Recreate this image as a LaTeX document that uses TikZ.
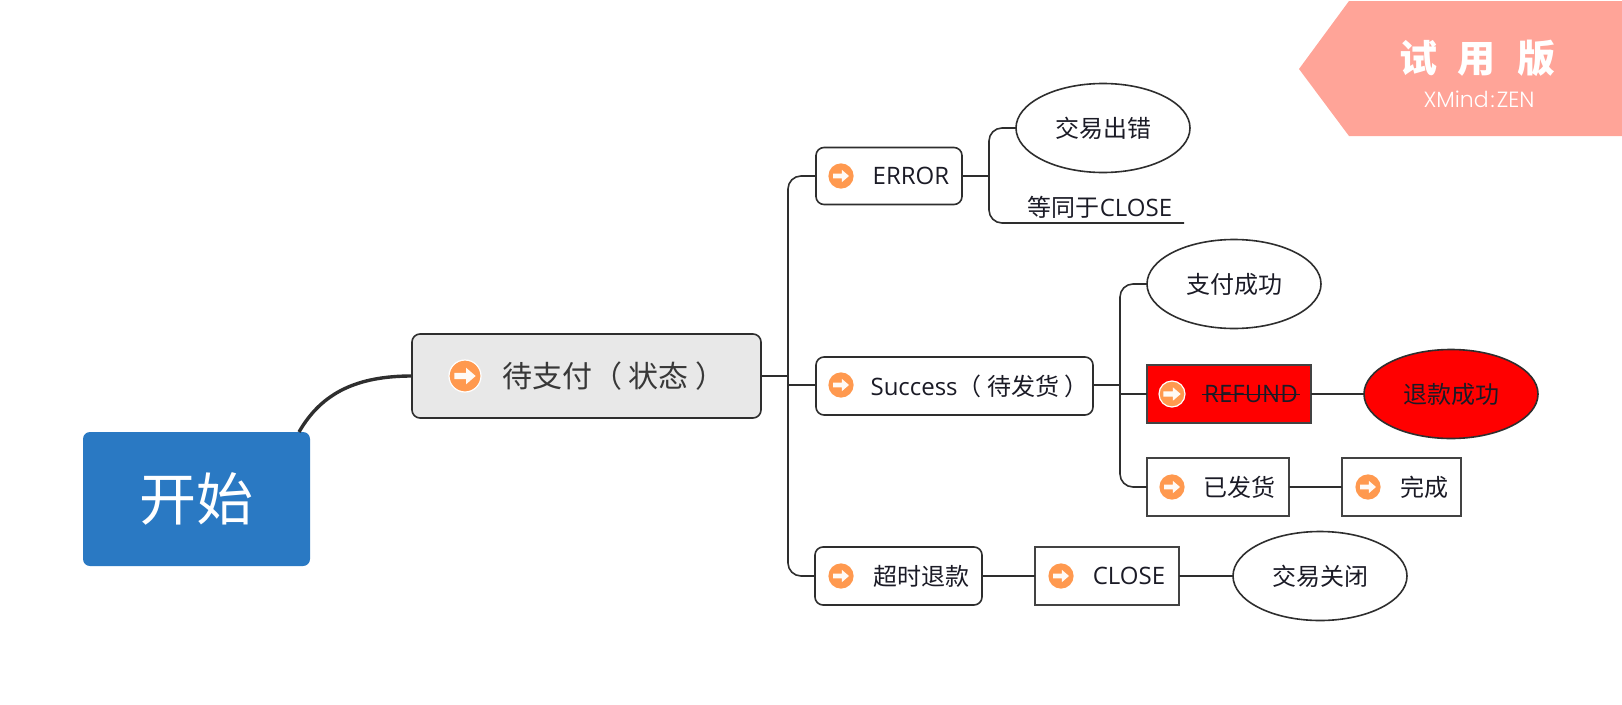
\documentclass[tikz,border=0pt]{standalone}
\usepackage{fontspec}
\usetikzlibrary{shapes.geometric}
\setmainfont{Open Sans}
\newfontfamily\cjk{Noto Sans CJK SC}
\newfontfamily\wm{Poppins}[UprightFont=* Light]
\definecolor{ink}{HTML}{1B1B26}
\definecolor{linec}{HTML}{2E2E2E}
\definecolor{orangeic}{HTML}{FF994F}
\definecolor{bluebox}{HTML}{2A79C3}
\definecolor{greybox}{HTML}{E8E8E8}
\definecolor{banner}{HTML}{FFA498}
\newcommand{\fs}[1]{\fontsize{#1}{#1}\selectfont}
\newsavebox{\strikebox}
\newcommand{\struck}[1]{\sbox{\strikebox}{#1}\rlap{\kern-2pt\rule[7.5pt]{\dimexpr\wd\strikebox+4pt\relax}{1.4pt}}\usebox{\strikebox}}
% #1 name, #2 x, #3 y, #4 radius, #5 ring
\newcommand{\arrowicon}[5]{%
  \node[circle,fill=orangeic,draw=#5,line width=1.2pt,minimum size=#4*2pt,inner sep=0pt] (#1) at (#2,#3) {};
  \begin{scope}[shift={(#2,#3)},scale=#4/12]
    \fill[white!95!orangeic] (-8,-2.4) -- (0.8,-2.4) -- (0.8,-6.2) -- (8,0) -- (0.8,6.2) -- (0.8,2.4) -- (-8,2.4) -- cycle;
  \end{scope}}
\tikzset{
  x=1pt,y=-1pt,
  basebox/.style={inner sep=0pt,outer sep=0pt,line width=1.6pt,draw=linec,text=ink,font=\fs{24}},
  roundbox/.style={basebox,rectangle,rounded corners=8pt,fill=white},
  squarebox/.style={basebox,rectangle,fill=white,line width=1.8pt,draw=linec!90},
  oval/.style={basebox,ellipse,fill=white,minimum width=174pt,minimum height=89pt,font=\fs{24}\cjk},
  conn/.style={draw=linec,line width=1.6pt},
  elbow/.style={conn,rounded corners=13pt},
}
\begin{document}
\begin{tikzpicture}
\useasboundingbox (0,0) rectangle (1622,704);
% trial banner
\fill[banner] (1349,1) -- (1622,1) -- (1622,136) -- (1349,136) -- (1299,69) -- cycle;
\node[text=white,inner sep=0pt,font=\fs{38}\cjk\bfseries] (trial) at (1477,58) {试\hspace{21pt}用\hspace{21pt}版};
\node[text=white,inner sep=0pt,font=\fs{22}\wm] (xmind) at (1479,99) {XMind\hspace{2pt}:\hspace{2pt}ZEN};
% nodes
\node[rectangle,rounded corners=7pt,fill=bluebox,text=white,minimum width=227pt,minimum height=134pt,inner sep=0pt,font=\fs{57}\cjk] (start) at (196.5,499) {开始};
\node[roundbox,fill=greybox,minimum width=349pt,minimum height=84pt,text=linec!95,font=\fs{30}\cjk] (main) at (586.5,376) {\hspace*{55pt}待支付（ 状态 ）};
\node[roundbox,minimum width=146pt,minimum height=57pt] (err) at (889,176) {\hspace*{44pt}ERROR};
\node[roundbox,minimum width=277pt,minimum height=58pt] (suc) at (954.5,386) {\hspace*{50pt}Success{\cjk（ 待发货 ）}};
\node[roundbox,minimum width=167pt,minimum height=58pt,font=\fs{24}\cjk] (over) at (898.5,576) {\hspace*{45pt}超时退款};
\node[squarebox,minimum width=144pt,minimum height=58pt] (cls) at (1107,576) {\hspace*{44pt}CLOSE};
\node[squarebox,fill=red,minimum width=164pt,minimum height=58pt] (ref) at (1229,394) {\hspace*{44pt}\struck{REFUND}};
\node[squarebox,minimum width=142pt,minimum height=58pt,font=\fs{24}\cjk] (ship) at (1218,487) {\hspace*{43pt}已发货};
\node[squarebox,minimum width=119pt,minimum height=58pt,font=\fs{24}\cjk] (done) at (1401.5,487) {\hspace*{45pt}完成};
\node[oval] (fail) at (1103,128) {交易出错};
\node[oval] (pay) at (1234,284) {支付成功};
\node[oval,fill=red] (back) at (1451,394) {退款成功};
\node[oval] (shut) at (1320,576) {交易关闭};
\node[inner sep=0pt,outer sep=0pt,minimum width=168pt,minimum height=32pt,text=ink,font=\fs{24}] (same) at (1100,207) {{\cjk 等同于}CLOSE};
% junction points
\coordinate (t1) at (788,376);
\coordinate (t1b) at (788,385);
\coordinate (t2) at (989,176);
\coordinate (t3) at (1120,385);
\coordinate (s1) at (299,432);
% connectors
\draw[draw=linec,line width=3.4pt] (s1) .. controls (322,392) and (358,376) .. (main.west);
\draw[conn,line width=2pt] (main.east) -- (t1);
\draw[elbow] (err.west) -| (t1);
\draw[elbow] (over.west) -| (t1b);
\draw[conn] (t1) -- (t1b) -- (suc.west |- t1b);
\draw[conn] (err.east) -- (t2);
\draw[elbow] (fail.west) -| (t2);
\draw[elbow] (t2) |- (same.south west) -- (same.south east);
\draw[conn,line width=2.4pt] (suc.east |- t3) -- (t3);
\draw[elbow] (pay.west) -| (t3);
\draw[elbow] (ship.west) -| (t3);
\draw[conn] (ref.west -| t3) -- (ref.west);
\draw[conn] (ref.east) -- (back.west);
\draw[conn] (ship.east) -- (done.west);
\draw[conn] (over.east) -- (cls.west);
\draw[conn] (cls.east) -- (shut.west);
% icons
\arrowicon{imain}{465}{376}{16}{white}
\arrowicon{ierr}{841}{176}{12}{orangeic}
\arrowicon{isuc}{841}{385}{12}{orangeic}
\arrowicon{iover}{841}{576}{12}{orangeic}
\arrowicon{icls}{1061}{576}{12}{orangeic}
\arrowicon{iref}{1172}{394}{13}{white}
\arrowicon{iship}{1172}{487}{12}{orangeic}
\arrowicon{idone}{1368}{487}{12}{orangeic}
\end{tikzpicture}
\end{document}
